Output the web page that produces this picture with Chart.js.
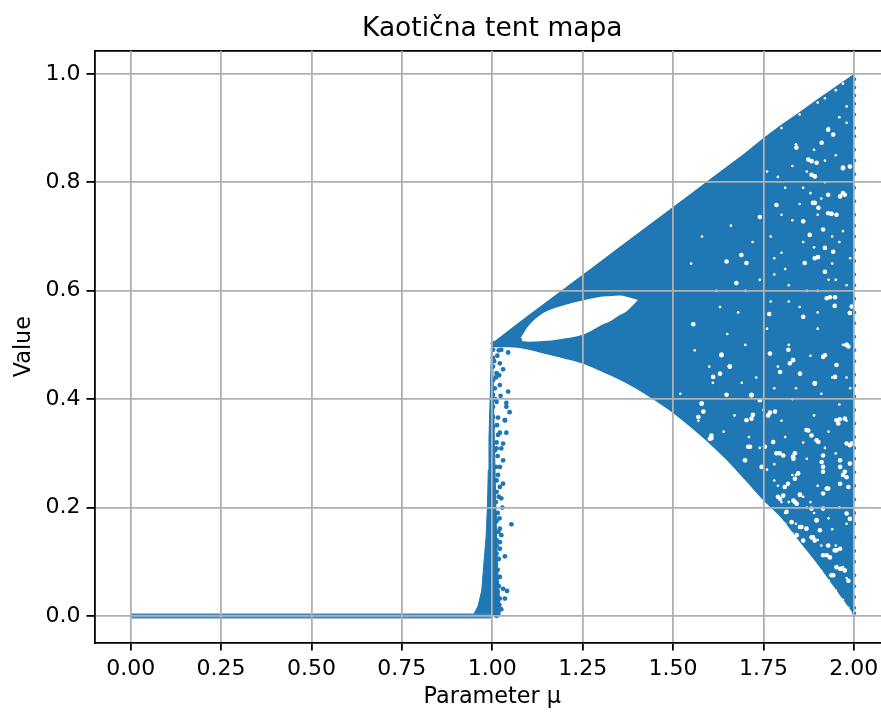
<!DOCTYPE html>
<html lang="en">
<head>
<meta charset="UTF-8" />
<title>Kaotična tent mapa</title>
<script src="https://cdn.jsdelivr.net/npm/chart.js@4"></script>
<style>
  html, body { margin: 0; background: #fff; overflow: hidden; width: 881px; height: 713px; }
  canvas { display: block; filter: blur(0.55px); }
</style>
</head>
<body>
<canvas id="myChart" width="900" height="713"></canvas>
<script>
const xTicks = [0, 0.25, 0.5, 0.75, 1, 1.25, 1.5, 1.75, 2];
const yTicks = [0, 0.2, 0.4, 0.6, 0.8, 1];

// outline of the solid part of the cloud
const bandMu = [1, 1.05, 1.1, 1.15, 1.2, 1.25, 1.3, 1.35, 1.4, 1.45, 1.5, 1.55, 1.6, 1.65, 1.7, 1.75, 1.8, 1.85, 1.9, 1.95, 2];
const bandTop = [0.502, 0.528, 0.553, 0.578, 0.603, 0.628, 0.653, 0.678, 0.703, 0.728, 0.753, 0.778, 0.803, 0.828, 0.853, 0.88, 0.905, 0.928, 0.952, 0.975, 0.998];
const bandBottom = [0.497, 0.497, 0.4926, 0.484, 0.476, 0.467, 0.453, 0.438, 0.42, 0.399, 0.376, 0.349, 0.32, 0.288, 0.252, 0.215, 0.182, 0.139, 0.097, 0.051, 0.005];

// the white lens inside the cloud
const holeMu = [1.075, 1.1, 1.14, 1.187, 1.25, 1.279, 1.306, 1.325, 1.353, 1.371, 1.403];
const holeTop = [0.509, 0.535, 0.5585, 0.571, 0.582, 0.586, 0.5895, 0.59, 0.591, 0.589, 0.583];
const holeBottom = [0.507, 0.506, 0.507, 0.5106, 0.5187, 0.528, 0.538, 0.543, 0.555, 0.5617, 0.583];

// steep rise near mu = 1
const riseMu = [0.947, 0.961, 0.971, 0.976, 0.983, 0.987, 0.989, 0.991, 0.995, 0.998, 1, 1.003, 1.006, 1.01, 1.014, 1.02, 1.022];
const riseTop = [0, 0.019, 0.047, 0.09, 0.146, 0.208, 0.269, 0.33, 0.42, 0.5, 0.5, 0.42, 0.32, 0.2, 0.1, 0.03, 0];

const flatMu = [0, 1];
const flatValue = [0, 0];

// loose dots right of the rise
const looseMu = [1.035, 1.039, 1.021, 1.03, 1.025, 1.012, 1.03, 1.021, 1.03, 1.021, 1.025, 1.012, 1.028, 1.053, 1.021, 1.025, 1.021, 1.021, 1.035, 1.012, 1.021, 1.03, 1.041, 1.035, 1.021, 1.025, 1.012, 1.012, 1.012, 1.007, 1.007, 1.007, 1.016,
  1.044, 1.025, 1.021, 1.03, 1.012, 1.019, 1.044, 1.021, 1.023, 1.039, 1.048, 1.039, 1.035, 1.016, 1.013, 1.012, 1.007, 1.062, 1.076, 1.057,
  1.002, 1.002, 1.002, 1.002, 1.002, 1.002, 1.002, 1.002, 1.002,
  1.012, 1.015, 1.01, 1.016, 1.012, 1.018, 1.01, 1.015, 1.012, 1.02, 1.017, 1.012, 1.018, 1.01, 1.015, 1.012, 1.018, 1.015, 1.01, 1.02, 1.012, 1.008, 1.01, 1.014, 1.005, 1.018];
const looseValue = [0.361, 0.338, 0.338, 0.318, 0.309, 0.309, 0.287, 0.275, 0.244, 0.238, 0.217, 0.229, 0.2, 0.169, 0.161, 0.149, 0.136, 0.124, 0.11, 0.115, 0.072, 0.05, 0.046, 0.032, 0.032, 0.012, 0, 0.06, 0.14, 0.183, 0.25, 0.305, 0.334,
  0.486, 0.491, 0.466, 0.455, 0.448, 0.444, 0.414, 0.426, 0.406, 0.393, 0.376, 0.386, 0.361, 0.366, 0.352, 0.395, 0.42, 0.518, 0.509, 0.509,
  0.503, 0.491, 0.476, 0.46, 0.435, 0.408, 0.386, 0.367, 0.349,
  0.32, 0.295, 0.275, 0.26, 0.25, 0.22, 0.21, 0.19, 0.175, 0.18, 0.155, 0.13, 0.105, 0.095, 0.085, 0.07, 0.055, 0.045, 0.03, 0.02, 0.015, 0.4, 0.44, 0.48, 0.47, 0.49];

// dotted right edge at mu = 2
const edgeValue = [0.99, 0.975, 0.96, 0.945, 0.925, 0.9, 0.885, 0.86, 0.84, 0.815, 0.79, 0.765, 0.74, 0.72, 0.7, 0.675, 0.655, 0.63, 0.61, 0.585, 0.56, 0.54, 0.515, 0.49, 0.47, 0.445, 0.425, 0.405, 0.38, 0.355, 0.33, 0.31, 0.29, 0.265, 0.24, 0.215, 0.19, 0.17, 0.145, 0.12, 0.1, 0.075, 0.055, 0.035, 0.015, 0.005];

// white gaps in the cloud, bigger ones
const gapMu = [1.938, 1.97, 1.892, 1.786, 1.929, 1.841, 1.874, 1.975, 1.915, 1.86, 1.901, 1.943, 1.92, 1.934, 1.947, 1.989, 1.86, 1.766, 1.74, 1.887, 1.929, 1.943, 1.911, 1.864, 1.878, 1.675, 1.689, 1.703, 1.648, 1.556,
  1.818, 1.832, 1.837, 1.874, 1.961, 1.925, 1.947, 1.887, 1.855, 1.929, 1.97, 1.98, 1.832, 1.657, 1.721, 1.768, 1.579, 1.606, 1.708, 1.897, 1.965, 1.938, 1.915, 1.795, 1.634, 1.717, 1.648, 1.892, 1.915, 1.952, 1.989, 1.989, 1.851, 1.79, 1.906,
  1.809, 1.837, 1.846, 1.833, 1.805, 1.786, 1.805, 1.833, 1.837, 1.777, 1.754, 1.883, 1.897, 1.869, 1.902, 1.915, 1.911, 1.915, 1.962, 1.975, 1.98, 1.962, 1.925, 1.915, 1.962, 1.985, 1.952, 1.975, 1.957, 1.98, 1.994, 1.763, 1.782, 1.579, 1.584, 1.57, 1.717, 1.703, 1.602, 1.606, 1.713, 1.699, 1.745,
  1.814, 1.828, 1.851, 1.869, 1.897, 1.883, 1.892, 1.929, 1.915, 1.934, 1.952, 1.962, 1.962, 1.975, 1.943, 1.98, 1.989, 1.842, 1.796, 1.851, 1.883, 1.915, 1.842, 1.86, 1.952, 1.985,
  1.634, 1.657, 1.611, 1.63, 1.717, 1.74, 1.768, 1.819, 1.823, 1.832, 1.92, 1.892, 1.948, 1.985, 1.98, 1.796, 1.851,
  1.883, 1.897, 1.97, 1.989, 1.892, 1.883, 1.97, 1.962, 1.892, 1.902, 1.938, 1.952, 1.929, 1.989, 1.994, 1.925, 1.948, 1.892, 1.92];
const gapValue = [0.742, 0.827, 0.811, 0.758, 0.897, 0.864, 0.842, 0.777, 0.713, 0.728, 0.662, 0.672, 0.635, 0.588, 0.572, 0.559, 0.552, 0.557, 0.736, 0.762, 0.777, 0.888, 0.873, 0.651, 0.703, 0.614, 0.666, 0.651, 0.654, 0.538,
  0.244, 0.294, 0.21, 0.342, 0.363, 0.112, 0.121, 0.145, 0.164, 0.235, 0.26, 0.5, 0.472, 0.46, 0.371, 0.375, 0.392, 0.328, 0.312, 0.177, 0.087, 0.075, 0.266, 0.3, 0.482, 0.408, 0.408, 0.429, 0.478, 0.463, 0.315, 0.281, 0.223, 0.22, 0.158,
  0.238, 0.253, 0.263, 0.213, 0.222, 0.3, 0.296, 0.29, 0.3, 0.321, 0.312, 0.333, 0.324, 0.343, 0.321, 0.296, 0.284, 0.275, 0.287, 0.266, 0.256, 0.275, 0.235, 0.226, 0.244, 0.238, 0.361, 0.364, 0.355, 0.318, 0.318, 0.37, 0.377, 0.392, 0.377, 0.367, 0.364, 0.361, 0.327, 0.333, 0.312, 0.287, 0.275,
  0.192, 0.173, 0.164, 0.161, 0.176, 0.145, 0.139, 0.13, 0.112, 0.108, 0.121, 0.124, 0.087, 0.084, 0.075, 0.189, 0.179, 0.207, 0.216, 0.224, 0.198, 0.198, 0.149, 0.139, 0.09, 0.065,
  0.481, 0.46, 0.441, 0.447, 0.407, 0.398, 0.484, 0.491, 0.466, 0.472, 0.481, 0.429, 0.441, 0.497, 0.5, 0.45, 0.447,
  0.839, 0.836, 0.826, 0.829, 0.811, 0.814, 0.78, 0.774, 0.762, 0.753, 0.742, 0.74, 0.743, 0.559, 0.571, 0.586, 0.588, 0.66, 0.679];

// small white flecks, the last rows nibble at the cloud's rim
const fleckMu = [1.55, 1.58, 1.62, 1.66, 1.68, 1.72, 1.74, 1.77, 1.8, 1.81, 1.83, 1.85, 1.87, 1.89, 1.9, 1.92, 1.93, 1.95, 1.96, 1.98,
  1.6, 1.65, 1.7, 1.73, 1.76, 1.79, 1.82, 1.84, 1.86, 1.88, 1.9, 1.94, 1.97, 1.99,
  1.57, 1.61, 1.64, 1.69, 1.71, 1.75, 1.78, 1.8, 1.83, 1.86, 1.89, 1.91, 1.93, 1.96, 1.98,
  1.52, 1.56, 1.63, 1.67, 1.7, 1.74, 1.78, 1.81, 1.84, 1.87, 1.9, 1.92, 1.95, 1.98,
  1.78, 1.81, 1.84, 1.87, 1.9, 1.93, 1.96, 1.98, 1.76, 1.79, 1.82, 1.85, 1.88, 1.91, 1.94, 1.97, 1.8, 1.83, 1.86, 1.89, 1.92, 1.95, 1.98,
  1.76, 1.78, 1.8, 1.82, 1.84, 1.86, 1.88, 1.9, 1.92, 1.94, 1.96, 1.98, 1.77, 1.79, 1.81, 1.83, 1.85, 1.87, 1.89, 1.91, 1.93, 1.95, 1.97, 1.99, 1.78, 1.82, 1.86, 1.9, 1.94, 1.98,
  1.81, 1.83, 1.86, 1.88, 1.91, 1.93, 1.95, 1.97, 1.985, 1.8, 1.85, 1.9, 1.92, 1.95, 1.97];
const fleckValue = [0.65, 0.7, 0.6, 0.72, 0.56, 0.69, 0.62, 0.7, 0.67, 0.79, 0.83, 0.76, 0.6, 0.86, 0.74, 0.8, 0.62, 0.85, 0.69, 0.91,
  0.46, 0.52, 0.5, 0.44, 0.53, 0.46, 0.5, 0.42, 0.55, 0.48, 0.53, 0.44, 0.5, 0.42,
  0.36, 0.43, 0.34, 0.43, 0.33, 0.38, 0.42, 0.36, 0.4, 0.32, 0.37, 0.41, 0.34, 0.39, 0.44,
  0.41, 0.49, 0.57, 0.37, 0.6, 0.31, 0.28, 0.33, 0.26, 0.29, 0.24, 0.31, 0.3, 0.36,
  0.25, 0.19, 0.17, 0.2, 0.14, 0.18, 0.2, 0.17, 0.27, 0.24, 0.21, 0.12, 0.21, 0.13, 0.16, 0.09, 0.21, 0.26, 0.22, 0.19, 0.07, 0.13, 0.07,
  0.82, 0.63, 0.74, 0.58, 0.87, 0.69, 0.78, 0.6, 0.84, 0.7, 0.92, 0.61, 0.58, 0.81, 0.64, 0.73, 0.57, 0.82, 0.68, 0.77, 0.9, 0.62, 0.71, 0.66, 0.66, 0.61, 0.79, 0.56, 0.65, 0.94,
  0.17, 0.152, 0.122, 0.105, 0.083, 0.065, 0.047, 0.03, 0.015, 0.9, 0.925, 0.947, 0.955, 0.97, 0.982];

const blue = '#1f77b4';
const xy = (xs, ys) => xs.map((x, i) => ({ x, y: ys[i] }));

const config = {
  type: 'line',
  data: {
    datasets: [
      { data: xy(bandMu, bandTop), order: 10, fill: '+1', backgroundColor: blue, borderColor: blue, borderWidth: 1.5, pointRadius: 0 },
      { data: xy(bandMu, bandBottom), order: 10, fill: false, borderColor: blue, borderWidth: 1.5, pointRadius: 0, cubicInterpolationMode: 'monotone' },
      { data: xy(holeMu, holeTop), order: 9, fill: '+1', backgroundColor: '#fff', borderWidth: 0, pointRadius: 0, cubicInterpolationMode: 'monotone' },
      { data: xy(holeMu, holeBottom), order: 9, fill: false, borderWidth: 0, pointRadius: 0, cubicInterpolationMode: 'monotone' },
      { data: xy(riseMu, riseTop), order: 8, fill: { value: 0 }, backgroundColor: blue, borderColor: blue, borderWidth: 1, pointRadius: 0 },
      { data: xy(flatMu, flatValue), order: 7, fill: false, borderColor: '#3f87ba', borderWidth: 5, pointRadius: 0 },
      { data: xy(gapMu, gapValue), order: 4, showLine: false, pointRadius: 2.3, pointBorderWidth: 0, pointBackgroundColor: '#fff' },
      { data: xy(fleckMu, fleckValue), order: 3, showLine: false, pointRadius: 1.3, pointBorderWidth: 0, pointBackgroundColor: '#fff' },
      { data: xy(looseMu, looseValue), order: 2, showLine: false, pointRadius: 2.4, pointBorderWidth: 0, pointBackgroundColor: blue },
      { data: edgeValue.map(y => ({ x: 2.001, y })), order: 1, showLine: false, pointRadius: 2, pointBorderWidth: 0, pointBackgroundColor: blue }
    ]
  },
  options: {
    responsive: false,
    animation: false,
    layout: { padding: { right: 10 } },
    plugins: {
      legend: { display: false },
      tooltip: { enabled: false },
      title: {
        display: true,
        text: 'Kaotična tent mapa',
        fullSize: false,
        color: '#000',
        font: { family: 'DejaVu Sans', size: 26.5, weight: 'normal' },
        padding: { top: 13, bottom: 6 }
      }
    },
    scales: {
      x: {
        type: 'linear',
        min: -0.1,
        max: 2.1,
        afterBuildTicks(scale) { scale.ticks = xTicks.map(value => ({ value })); },
        afterFit(scale) { scale.height = 70.5; },
        ticks: {
          autoSkip: false,
          maxRotation: 0,
          padding: 6,
          color: '#000',
          font: { family: 'DejaVu Sans', size: 22 },
          callback: v => v.toFixed(2)
        },
        grid: { z: 1, color: '#b0b0b0', lineWidth: 1.8, tickColor: '#000', tickWidth: 1.8, tickLength: 8 },
        border: { z: 2, color: '#000', width: 1.8 },
        title: { display: true, text: 'Parameter μ', color: '#000', font: { family: 'DejaVu Sans', size: 22.3 }, padding: { top: 0, bottom: 2 } }
      },
      xTop: {
        type: 'linear',
        axis: 'x',
        position: 'top',
        min: -0.1,
        max: 2.1,
        afterFit(scale) { scale.height = 0; },
        ticks: { display: false },
        grid: { drawOnChartArea: false, drawTicks: false },
        border: { color: '#000', width: 1.8 }
      },
      y: {
        min: -0.049,
        max: 1.0426,
        afterBuildTicks(scale) { scale.ticks = yTicks.map(value => ({ value })); },
        afterFit(scale) { scale.width = 94.5; },
        ticks: {
          autoSkip: false,
          padding: 6,
          color: '#000',
          font: { family: 'DejaVu Sans', size: 22 },
          callback: v => v.toFixed(1)
        },
        grid: { z: 1, color: '#b0b0b0', lineWidth: 1.8, tickColor: '#000', tickWidth: 1.8, tickLength: 8 },
        border: { z: 2, color: '#000', width: 1.8 },
        title: { display: true, text: 'Value', color: '#000', font: { family: 'DejaVu Sans', size: 22.3 }, padding: { top: 11, bottom: 0 } }
      }
    }
  }
};

const myChart = new Chart(document.getElementById('myChart'), config);
</script>
</body>
</html>
